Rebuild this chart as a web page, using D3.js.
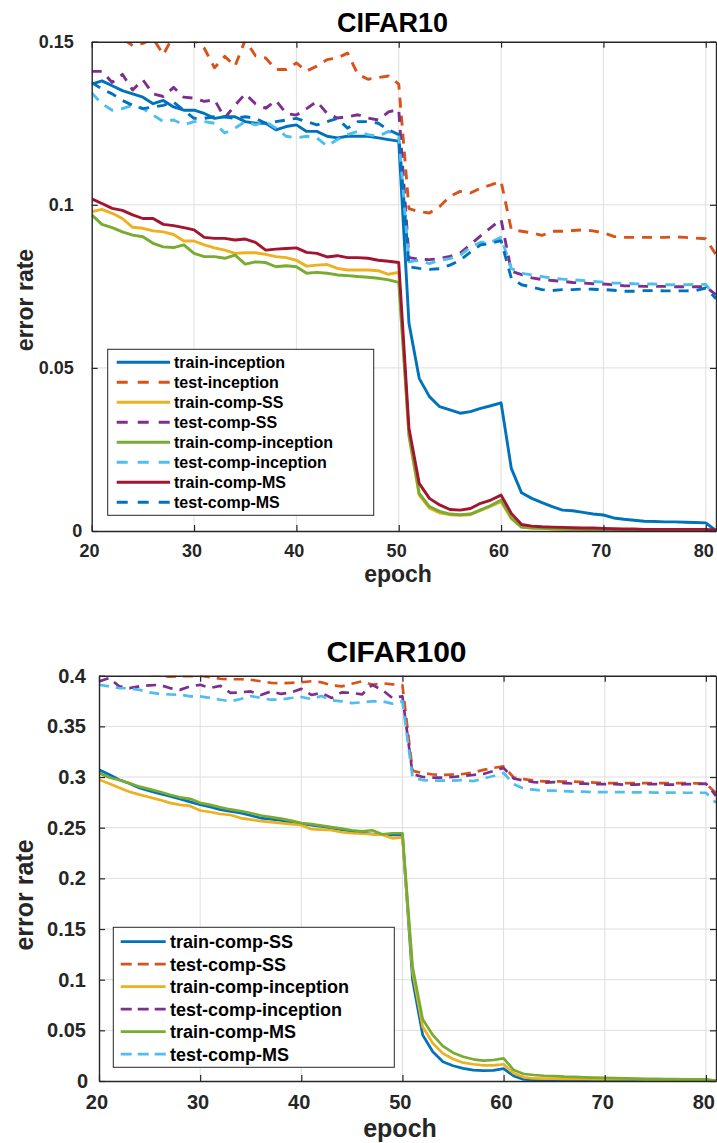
<!DOCTYPE html>
<html><head><meta charset="utf-8">
<script src="https://cdn.jsdelivr.net/npm/d3@7"></script>
<style>
body{margin:0;background:#fff}
svg{display:block}
text{font-family:"Liberation Sans",Arial,Helvetica,sans-serif;font-weight:bold}
</style>
</head><body>
<svg id="c" width="717" height="1143"></svg>
<script>
const epochs = [20,21,22,23,24,25,26,27,28,29,30,31,32,33,34,35,36,37,38,39,40,41,42,43,44,45,46,47,48,49,50,
  51,52,53,54,55,56,57,58,59,60,61,62,63,64,65,66,67,68,69,70,71,72,73,74,75,76,77,78,79,80,81];

// ---------- CIFAR10 ----------
const c10Names = ["train-inception","test-inception","train-comp-SS","test-comp-SS","train-comp-inception","test-comp-inception","train-comp-MS","test-comp-MS"];
const c10TrainInception = [0.137,0.138,0.1365,0.135,0.134,0.133,0.131,0.132,0.130,0.129,0.129,0.128,0.1265,0.127,0.127,0.1255,0.125,0.125,0.123,0.124,0.1245,0.1225,0.1225,0.121,0.1205,0.121,0.121,0.121,0.1205,0.120,0.1195,
  0.0637,0.0468,0.0412,0.0381,0.0371,0.0361,0.0366,0.0376,0.0384,0.0393,0.0192,0.0117,0.0100,0.0087,0.0075,0.0064,0.0062,0.0057,0.0052,0.0049,0.0040,0.0036,0.0033,0.0030,0.0029,0.0028,0.0028,0.0027,0.0026,0.0025,0.0001];
const c10TestInception = [0.155,0.153,0.152,0.151,0.1488,0.1495,0.151,0.146,0.152,0.150,0.1505,0.148,0.142,0.1455,0.1425,0.1505,0.1457,0.145,0.1415,0.1415,0.1435,0.141,0.1425,0.1445,0.145,0.1465,0.140,0.1385,0.139,0.1395,0.137,
  0.0988,0.0979,0.0975,0.0995,0.1026,0.1041,0.1036,0.1051,0.1061,0.1072,0.0924,0.0919,0.0914,0.0906,0.0919,0.0919,0.0921,0.0923,0.0920,0.0914,0.0903,0.0900,0.0900,0.0900,0.0900,0.0900,0.0902,0.0900,0.0898,0.0896,0.0847];
const c10TrainCompSS = [0.0979,0.0986,0.0974,0.0958,0.0931,0.0928,0.092,0.0917,0.0909,0.0889,0.0889,0.0877,0.0868,0.0861,0.0851,0.0853,0.0853,0.0848,0.0841,0.0838,0.083,0.0812,0.0815,0.0817,0.0805,0.080,0.080,0.080,0.0798,0.0787,0.0793,
  0.029,0.011,0.007,0.0055,0.005,0.0048,0.005,0.0063,0.0076,0.009,0.0038,0.0012,0.0009,0.0008,0.0007,0.0006,0.0005,0.0005,0.0004,0.0004,0.0003,0.0003,0.0003,0.0003,0.0002,0.0002,0.0002,0.0002,0.0002,0.0002,0.0001];
const c10TestCompSS = [0.1409,0.1409,0.1375,0.140,0.1352,0.1383,0.134,0.1332,0.136,0.133,0.1327,0.1317,0.1322,0.1266,0.1305,0.134,0.131,0.1296,0.132,0.128,0.1275,0.1295,0.1317,0.128,0.1266,0.127,0.1276,0.1266,0.126,0.1285,0.1292,
  0.0838,0.0833,0.0832,0.0835,0.0842,0.0852,0.0878,0.0905,0.093,0.0955,0.0797,0.0786,0.0776,0.0771,0.0768,0.0765,0.0762,0.076,0.0758,0.0757,0.0755,0.0752,0.0751,0.075,0.075,0.075,0.0749,0.0749,0.0749,0.0749,0.0724];
const c10TrainCompInception = [0.0969,0.094,0.093,0.0917,0.0907,0.0902,0.0882,0.0871,0.0869,0.0877,0.0851,0.0841,0.0841,0.0836,0.0846,0.0818,0.0825,0.0823,0.081,0.0813,0.081,0.079,0.0793,0.079,0.0785,0.0783,0.078,0.0778,0.0775,0.077,0.0762,
  0.0295,0.0115,0.0075,0.006,0.0052,0.005,0.0052,0.0065,0.0078,0.0095,0.004,0.0012,0.0009,0.0008,0.0007,0.0006,0.0005,0.0005,0.0004,0.0004,0.0003,0.0003,0.0003,0.0003,0.0002,0.0002,0.0002,0.0002,0.0002,0.0002,0.0001];
const c10TestCompInception = [0.1343,0.131,0.129,0.1295,0.1305,0.1295,0.1275,0.1255,0.126,0.1245,0.1255,0.1255,0.125,0.122,0.1235,0.1255,0.1245,0.1255,0.1235,0.121,0.1205,0.121,0.1205,0.118,0.120,0.1215,0.1225,0.1215,0.121,0.1225,0.121,
  0.0825,0.083,0.082,0.083,0.0835,0.0845,0.087,0.0885,0.0885,0.090,0.0805,0.079,0.0785,0.078,0.0775,0.0772,0.077,0.0768,0.0765,0.0763,0.076,0.076,0.0758,0.0757,0.0757,0.0755,0.0755,0.0755,0.0756,0.0756,0.0715];
const c10TrainCompMS = [0.1018,0.1004,0.0989,0.0983,0.0969,0.0958,0.0958,0.094,0.0936,0.093,0.0923,0.090,0.0897,0.0897,0.0892,0.0895,0.0885,0.0861,0.0864,0.0866,0.0868,0.0854,0.0851,0.084,0.0844,0.0838,0.0838,0.0836,0.083,0.0827,0.0823,
  0.0315,0.0146,0.010,0.008,0.0066,0.0064,0.0069,0.0085,0.0095,0.011,0.0054,0.002,0.0015,0.0013,0.0012,0.0011,0.001,0.0009,0.0009,0.0008,0.0007,0.0006,0.0006,0.0005,0.0005,0.0005,0.0005,0.0005,0.0005,0.0005,0.0003];
const c10TestCompMS = [0.1375,0.1355,0.134,0.132,0.1305,0.1295,0.130,0.1305,0.1315,0.129,0.1265,0.1265,0.127,0.127,0.1265,0.127,0.1265,0.125,0.1255,0.126,0.1265,0.1255,0.1245,0.1255,0.1265,0.1235,0.1255,0.1255,0.125,0.123,0.1215,
  0.081,0.0805,0.0802,0.0804,0.0815,0.083,0.0855,0.0877,0.0882,0.089,0.0775,0.0755,0.0748,0.074,0.0737,0.074,0.074,0.0742,0.0741,0.074,0.0738,0.0735,0.0735,0.0737,0.0737,0.0736,0.0736,0.0736,0.0737,0.0745,0.0712];
const c10YTicks = [0, 0.05, 0.1, 0.15];
const c10YTickLabels = ["0", "0.05", "0.1", "0.15"];

// ---------- CIFAR100 ----------
const c100Names = ["train-comp-SS","test-comp-SS","train-comp-inception","test-comp-inception","train-comp-MS","test-comp-MS"];
const c100TrainCompSS = [0.3072,0.3025,0.2974,0.2935,0.2891,0.2862,0.2836,0.281,0.2783,0.2755,0.2727,0.2705,0.2678,0.266,0.2645,0.262,0.2595,0.2585,0.2572,0.2555,0.2539,0.2525,0.2513,0.2495,0.248,0.2465,0.2447,0.2438,0.2431,0.243,0.243,
  0.0996,0.0454,0.0289,0.019,0.0151,0.0125,0.0108,0.0102,0.0105,0.0122,0.0049,0.0016,0.0012,0.001,0.001,0.0009,0.0009,0.0008,0.0008,0.0008,0.0007,0.0007,0.0007,0.0006,0.0006,0.0006,0.0006,0.0006,0.0006,0.0006,0.0001];
const c100TestCompSS = [0.41,0.408,0.406,0.405,0.404,0.402,0.3995,0.399,0.3995,0.3995,0.400,0.3985,0.397,0.3965,0.3965,0.396,0.3945,0.393,0.3925,0.393,0.3935,0.3945,0.3935,0.3905,0.3895,0.392,0.3945,0.391,0.3925,0.3915,0.3905,
  0.306,0.304,0.3025,0.302,0.3025,0.303,0.3045,0.307,0.309,0.3105,0.2995,0.298,0.2965,0.2957,0.2957,0.2955,0.2955,0.295,0.2945,0.294,0.294,0.294,0.294,0.294,0.294,0.294,0.294,0.294,0.2938,0.2935,0.2842];
const c100TrainCompInception = [0.2974,0.2935,0.2895,0.2855,0.2826,0.280,0.2775,0.2745,0.2725,0.2715,0.267,0.2655,0.2635,0.2625,0.2595,0.258,0.2565,0.2555,0.2545,0.2535,0.2525,0.2485,0.248,0.2475,0.2455,0.2445,0.244,0.2435,0.243,0.2395,0.2405,
  0.1079,0.0536,0.0372,0.0273,0.0217,0.0181,0.0165,0.0155,0.0155,0.0165,0.0076,0.0036,0.0025,0.0023,0.0022,0.0021,0.002,0.002,0.0019,0.0019,0.0018,0.0018,0.0018,0.0017,0.0017,0.0017,0.0016,0.0016,0.0016,0.0016,0.0001];
const c100TestCompInception = [0.3944,0.3977,0.3895,0.3878,0.3895,0.3905,0.391,0.3878,0.386,0.3895,0.391,0.388,0.390,0.383,0.3836,0.3845,0.381,0.3845,0.382,0.3836,0.387,0.381,0.383,0.378,0.3836,0.383,0.3815,0.391,0.386,0.378,0.3796,
  0.303,0.300,0.2995,0.2995,0.300,0.301,0.302,0.303,0.306,0.309,0.2985,0.2965,0.295,0.2945,0.295,0.294,0.2935,0.2935,0.293,0.293,0.293,0.2925,0.2925,0.293,0.293,0.2925,0.2925,0.293,0.293,0.2935,0.2815];
const c100TrainCompMS = [0.304,0.2995,0.297,0.294,0.2905,0.288,0.2855,0.2825,0.280,0.2785,0.2745,0.2725,0.270,0.268,0.2665,0.2645,0.262,0.2605,0.259,0.257,0.2545,0.2535,0.252,0.2505,0.249,0.2475,0.2465,0.2475,0.2435,0.2445,0.2445,
  0.1128,0.0609,0.0454,0.0345,0.0279,0.024,0.0214,0.0201,0.0207,0.0224,0.0108,0.0069,0.0059,0.0052,0.0049,0.0043,0.004,0.0036,0.0033,0.003,0.0028,0.0026,0.0024,0.0022,0.002,0.0019,0.0018,0.0017,0.0017,0.0016,0.0001];
const c100TestCompMS = [0.3911,0.3895,0.3878,0.3875,0.386,0.3836,0.382,0.3815,0.3813,0.3796,0.3796,0.378,0.3763,0.3747,0.377,0.380,0.378,0.3763,0.3765,0.378,0.379,0.377,0.380,0.3757,0.3747,0.373,0.3737,0.3747,0.3747,0.3724,0.3747,
  0.2995,0.297,0.2965,0.2965,0.2965,0.297,0.296,0.2985,0.301,0.304,0.293,0.2885,0.2875,0.2865,0.2865,0.286,0.2855,0.2855,0.285,0.285,0.285,0.285,0.2848,0.2848,0.2847,0.2846,0.2846,0.2845,0.2845,0.2845,0.2745];
const c100YTicks = [0,0.05,0.1,0.15,0.2,0.25,0.3,0.35,0.4];
const c100YTickLabels = ["0","0.05","0.1","0.15","0.2","0.25","0.3","0.35","0.4"];

const xTicks = [20,30,40,50,60,70,80];
const xTickLabels = ["20","30","40","50","60","70","80"];
const matlabColors = ["#0072BD","#D95319","#EDB120","#7E2F8E","#77AC30","#4DBEEE","#A2142F"];

const svg = d3.select("#c");

function drawChart(o) {
  const g = svg.append("g");
  const x = d3.scaleLinear().domain([20, 81]).range([o.left, o.right]);
  const y = d3.scaleLinear().domain(o.yDomain).range([o.bottom, o.top]);
  const ink = "#262626";

  // grid
  g.append("g").selectAll("line").data(xTicks.filter(t => t > 20)).join("line")
    .attr("x1", d => x(d)).attr("x2", d => x(d)).attr("y1", o.top).attr("y2", o.bottom)
    .attr("stroke", "#dedede").attr("stroke-width", 1);
  g.append("g").selectAll("line").data(o.yTicks.filter(t => t > o.yDomain[0] && t < o.yDomain[1])).join("line")
    .attr("x1", o.left).attr("x2", o.right).attr("y1", d => y(d)).attr("y2", d => y(d))
    .attr("stroke", "#dedede").attr("stroke-width", 1);

  // lines
  const clipId = "clip" + o.id;
  svg.append("defs").append("clipPath").attr("id", clipId).append("rect")
    .attr("x", o.left).attr("y", o.top).attr("width", o.right - o.left).attr("height", o.bottom - o.top);
  const line = d3.line().x((d, i) => x(epochs[i])).y(d => y(d));
  const lg = g.append("g").attr("clip-path", `url(#${clipId})`);
  o.series.forEach((s, i) => {
    lg.append("path").datum(s).attr("d", line).attr("fill", "none")
      .attr("stroke", matlabColors[i % 7]).attr("stroke-width", o.lw)
      .attr("stroke-linejoin", "round")
      .attr("stroke-dasharray", i % 2 ? o.dash : null);
  });

  // axes
  const fmtX = (d) => xTickLabels[xTicks.indexOf(d)];
  const fmtY = (d) => o.yTickLabels[o.yTicks.indexOf(d)];
  const ax = g.append("g").attr("transform", `translate(0,${o.bottom})`)
    .call(d3.axisBottom(x).tickValues(xTicks).tickFormat(fmtX).tickSizeInner(-6).tickSizeOuter(0).tickPadding(o.xPad));
  const ay = g.append("g").attr("transform", `translate(${o.left},0)`)
    .call(d3.axisLeft(y).tickValues(o.yTicks).tickFormat(fmtY).tickSizeInner(-6).tickSizeOuter(0).tickPadding(o.yPad));
  const at = g.append("g").attr("transform", `translate(0,${o.top})`)
    .call(d3.axisTop(x).tickValues(xTicks).tickFormat("").tickSizeInner(-6).tickSizeOuter(0));
  const ar = g.append("g").attr("transform", `translate(${o.right},0)`)
    .call(d3.axisRight(y).tickValues(o.yTicks).tickFormat("").tickSizeInner(-6).tickSizeOuter(0));
  [ax, ay, at, ar].forEach(a => {
    a.select(".domain").attr("stroke", ink).attr("stroke-width", 1.4);
    a.selectAll(".tick line").attr("stroke", ink).attr("stroke-width", 1.2);
    a.selectAll("text").attr("fill", ink).style("font-size", o.tickFont + "px")
      .style("font-family", '"Liberation Sans",Arial,sans-serif').style("font-weight", "bold");
  });
  ax.selectAll(".tick text").attr("dx", -2.6);
  // the zero label sits closer to the axis corner in the original
  ay.selectAll(".tick text").filter(d => d === 0).attr("dx", o.zeroShift);

  // title and labels
  g.append("text").attr("x", o.titleX).attr("y", o.titleY).attr("text-anchor", "middle")
    .style("font-size", o.titleFont + "px").attr("fill", "#000").text(o.title);
  g.append("text").attr("x", o.xLabelX).attr("y", o.xLabelY).attr("text-anchor", "middle")
    .style("font-size", o.labelFont + "px").attr("fill", ink).text("epoch");
  g.append("text").attr("transform", `translate(${o.yLabelX},${o.yLabelY}) rotate(-90)`)
    .attr("text-anchor", "middle").style("font-size", o.labelFont + "px").attr("fill", ink).text("error rate");

  // legend
  const L = o.legend;
  const lgd = g.append("g");
  lgd.append("rect").attr("x", L.x).attr("y", L.y).attr("width", L.w).attr("height", L.h)
    .attr("fill", "#fff").attr("stroke", ink).attr("stroke-width", 1);
  o.names.forEach((n, i) => {
    const cy = L.y0 + i * L.step;
    lgd.append("line").attr("x1", L.lx1).attr("x2", L.lx2).attr("y1", cy).attr("y2", cy)
      .attr("stroke", matlabColors[i % 7]).attr("stroke-width", o.lw)
      .attr("stroke-dasharray", i % 2 ? L.dash : null);
    lgd.append("text").attr("x", L.tx).attr("y", cy).attr("dy", "0.35em")
      .style("font-size", L.font + "px").attr("fill", "#000").text(n);
  });
}

drawChart({
  id: "a", left: 91.7, right: 716, top: 41.7, bottom: 531,
  yDomain: [0, 0.15], yTicks: c10YTicks, yTickLabels: c10YTickLabels,
  series: [c10TrainInception, c10TestInception, c10TrainCompSS, c10TestCompSS, c10TrainCompInception, c10TestCompInception, c10TrainCompMS, c10TestCompMS],
  names: c10Names, lw: 2.9, dash: "10,8", tickFont: 18, xPad: 13, yPad: 18, zeroShift: 8.5,
  title: "CIFAR10", titleX: 392.5, titleY: 32, titleFont: 27,
  xLabelX: 398, xLabelY: 582, labelFont: 23, yLabelX: 33, yLabelY: 300,
  legend: {x: 107.7, y: 349.3, w: 266, h: 166, y0: 362.3, step: 20, lx1: 116.7, lx2: 170, tx: 174, font: 16, dash: "11,10"}
});

drawChart({
  id: "b", left: 99, right: 716, top: 675.7, bottom: 1081,
  yDomain: [0, 0.4], yTicks: c100YTicks, yTickLabels: c100YTickLabels,
  series: [c100TrainCompSS, c100TestCompSS, c100TrainCompInception, c100TestCompInception, c100TrainCompMS, c100TestCompMS],
  names: c100Names, lw: 2.7, dash: "10,7", tickFont: 20, xPad: 14, yPad: 13, zeroShift: 2,
  title: "CIFAR100", titleX: 396.5, titleY: 662, titleFont: 30,
  xLabelX: 400, xLabelY: 1137, labelFont: 25, yLabelX: 33, yLabelY: 895,
  legend: {x: 113.3, y: 927.3, w: 281, h: 140, y0: 941.7, step: 22.5, lx1: 120.7, lx2: 165.7, tx: 170, font: 18, dash: "11,6"}
});
</script>
</body></html>
